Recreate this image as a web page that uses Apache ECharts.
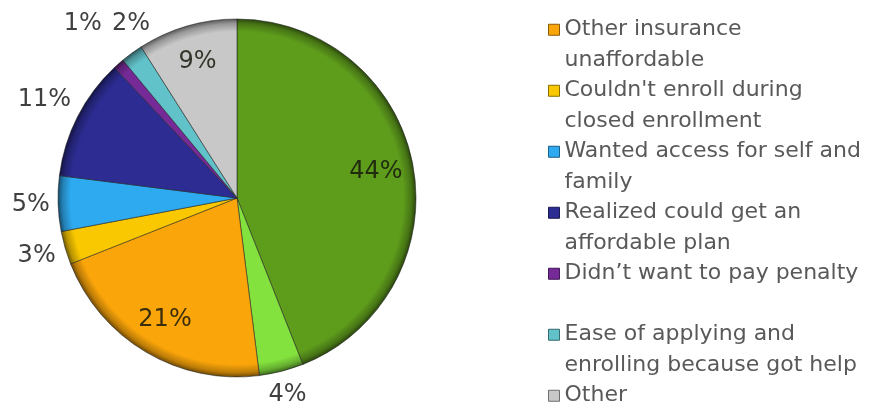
<!DOCTYPE html>
<html>
<head>
<meta charset="utf-8">
<script src="https://cdn.jsdelivr.net/npm/echarts@6/dist/echarts.min.js"></script>
<style>
  html, body { margin: 0; padding: 0; background: #ffffff; }
  #chart { width: 874px; height: 408px; }
</style>
</head>
<body>
<div id="chart"></div>
<script>
// Reasons for enrolling: share of respondents (%), clockwise from 12 o'clock
const categories = [
  'Unlisted reason A',
  'Unlisted reason B',
  'Other insurance unaffordable',
  "Couldn't enroll during closed enrollment",
  'Wanted access for self and family',
  'Realized could get an affordable plan',
  'Didn\u2019t want to pay penalty',
  'Ease of applying and enrolling because got help',
  'Other'
];
const shares = [44, 4, 21, 3, 5, 11, 1, 2, 9];

// Entries shown in the key, with their wrapped text lines
const legendNames = categories.slice(2);
const legendLines = [
  ['Other insurance', 'unaffordable'],
  ["Couldn't enroll during", 'closed enrollment'],
  ['Wanted access for self and', 'family'],
  ['Realized could get an', 'affordable plan'],
  ['Didn\u2019t want to pay penalty', ''],
  ['Ease of applying and', 'enrolling because got help'],
  ['Other', '']
];

// Slices whose percentage sits inside the slice
const labelsInside = ['Unlisted reason A', 'Other insurance unaffordable', 'Other'];

const palette = ['#5e9c1c', '#84e23e', '#faa50a', '#f9c800', '#2eaaf0',
                 '#2c2c92', '#762a98', '#62c2ca', '#c8c8c8'];

const CX = 237, CY = 198, R = 179;
const FONT = 'DejaVu Sans';
const LINE = 30.5;

function shade(hex, amt) {
  const n = parseInt(hex.slice(1), 16);
  const r = n >> 16, g = (n >> 8) & 255, b = n & 255;
  const f = c => amt >= 0 ? Math.round(c + (255 - c) * amt) : Math.round(c * (1 + amt));
  return 'rgb(' + f(r) + ',' + f(g) + ',' + f(b) + ')';
}

// Rim bevel: flat body darkening towards the outer edge
function bevel(base) {
  return {
    type: 'radial', x: CX, y: CY, r: R, global: true,
    colorStops: [
      { offset: 0, color: base },
      { offset: 0.93, color: base },
      { offset: 0.975, color: shade(base, -0.25) },
      { offset: 1, color: shade(base, -0.55) }
    ]
  };
}

// Label anchors: some slices labelled inside, the rest just outside the rim
const measure = document.createElement('canvas').getContext('2d');
measure.font = '24px "' + FONT + '"';
const total = shares.reduce((a, b) => a + b, 0);
let acc = 0;
const labelPos = shares.map((v, i) => {
  const mid = (acc + v / 2) / total * Math.PI * 2;
  acc += v;
  const nx = Math.sin(mid), ny = -Math.cos(mid);
  const w = measure.measureText(v + '%').width, h = 24;
  const inside = labelsInside.indexOf(categories[i]) >= 0;
  const d = inside ? 0.79 * R : R + 8 + Math.abs(nx) * w / 2 + Math.abs(ny) * h / 2;
  return { x: CX + nx * d, y: CY + ny * d, w: w, h: h, inside: inside };
});
// spread neighbouring outside labels that would collide
const outside = labelPos.filter(p => !p.inside);
for (let i = 0; i + 1 < outside.length; i++) {
  const a = outside[i], b = outside[i + 1];
  const need = (a.w + b.w) / 2 + 10;
  if (Math.abs(a.x - b.x) < need && Math.abs(a.y - b.y) < (a.h + b.h) / 2) {
    const push = (need - Math.abs(a.x - b.x)) / 2;
    const s = a.x <= b.x ? 1 : -1;
    a.x -= s * push; b.x += s * push;
    a.y = b.y = Math.min(a.y, b.y) - 6;
  }
}

const pieData = categories.map((name, i) => ({
  name: name,
  value: shares[i],
  itemStyle: { color: bevel(palette[i]) },
  label: { color: labelPos[i].inside ? 'rgba(22,24,12,0.85)' : '#404040' }
}));

const chart = echarts.init(document.getElementById('chart'), null, { renderer: 'canvas' });
chart.setOption({
  animation: false,
  backgroundColor: '#ffffff',
  legend: {
    orient: 'vertical',
    left: 548,
    top: -16,
    height: 700,
    padding: 0,
    itemGap: -LINE,
    itemWidth: 11,
    itemHeight: 11,
    icon: 'rect',
    selectedMode: false,
    data: legendNames.map(n => {
      const c = palette[categories.indexOf(n)];
      return { name: n, itemStyle: { color: c, borderColor: shade(c, -0.45), borderWidth: 1 } };
    }),
    // a leading blank line keeps the first text line level with the marker
    formatter: name => '\n' + legendLines[legendNames.indexOf(name)].join('\n'),
    textStyle: {
      fontFamily: FONT,
      fontSize: 22,
      color: '#595959',
      lineHeight: LINE
    }
  },
  series: [{
    type: 'pie',
    center: [CX, CY],
    radius: [0, R],
    startAngle: 90,
    clockwise: true,
    avoidLabelOverlap: false,
    silent: true,
    itemStyle: { borderColor: 'rgba(30,30,30,0.55)', borderWidth: 1 },
    label: {
      show: true,
      position: 'inside',
      formatter: '{c}%',
      fontFamily: FONT,
      fontSize: 24
    },
    labelLine: { show: false },
    labelLayout: params => {
      const p = labelPos[params.dataIndex];
      return { x: p.x, y: p.y, align: 'center', verticalAlign: 'middle' };
    },
    emphasis: { disabled: true },
    data: pieData
  }]
});
</script>
</body>
</html>
